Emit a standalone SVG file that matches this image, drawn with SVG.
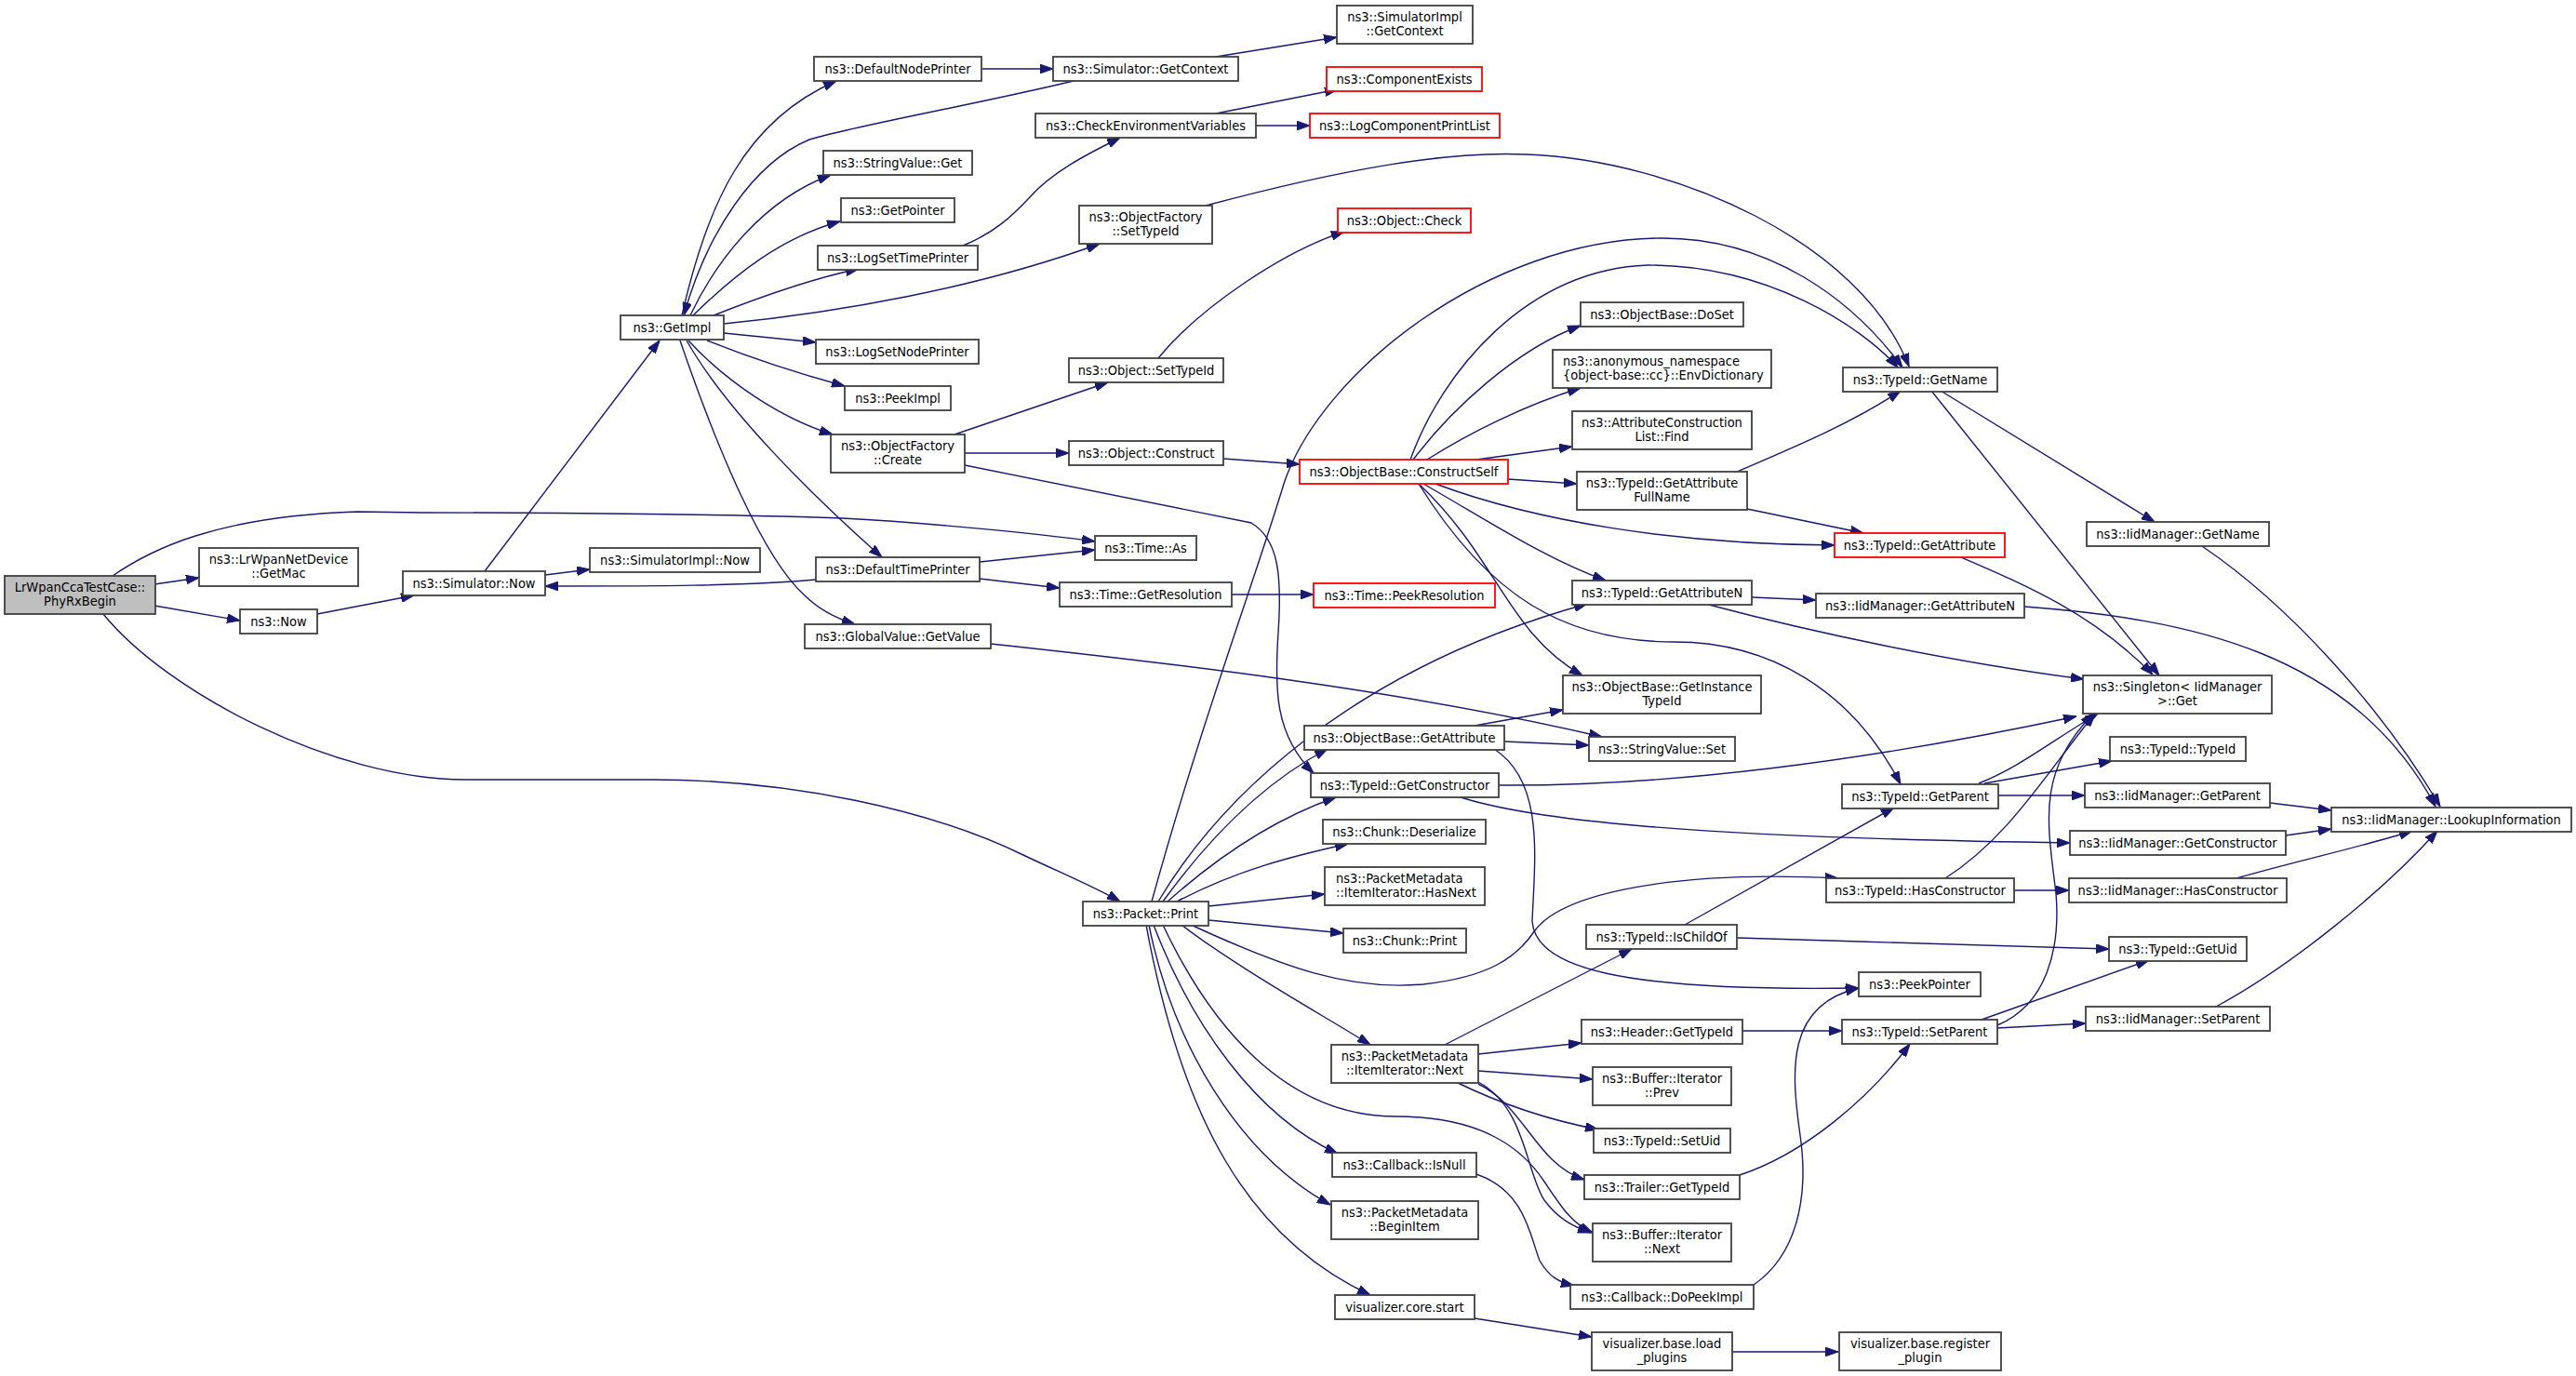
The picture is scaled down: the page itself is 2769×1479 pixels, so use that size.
<svg xmlns="http://www.w3.org/2000/svg" width="2769" height="1479" viewBox="0 0 2769 1479">
<style>
rect{fill:#fff;stroke:#404040;stroke-width:1.8}
.red rect{stroke:#ff0000}
.root rect{fill:#bfbfbf}
text{font-family:"DejaVu Sans Condensed","DejaVu Sans",sans-serif;font-stretch:condensed;font-size:14.5px;fill:#000;text-anchor:middle}
text.l{text-anchor:start}
#edges path{fill:none;stroke:#191970;stroke-width:1.4;marker-end:url(#a)}
</style>
<defs>
<marker id="a" markerUnits="userSpaceOnUse" markerWidth="14" markerHeight="10" viewBox="0 0 13 9" refX="13" refY="4.5" orient="auto">
<path d="M0,0 L13,4.5 L0,9 z" fill="#191970" stroke="#191970" stroke-width="1"/>
</marker>
</defs>
<rect x="0" y="0" width="2769" height="1479" style="fill:#fff;stroke:none"/>
<g id="edges">
<path d="M121,619 C160,592 230,555 384,550 L455,551 C600,551 800,553 905,557 C1000,562 1120,574 1177,582"/>
<path d="M166,628 L214,621"/>
<path d="M166,651 L258,667"/>
<path d="M111,660 C180,745 360,838 500,838 L700,838 C850,838 1000,870 1102,920 C1140,938 1180,955 1204,969"/>
<path d="M341,660 L445,640"/>
<path d="M521,614 L709,366"/>
<path d="M586,618 L634,612"/>
<path d="M877,623 C800,630 700,630 586,630"/>
<path d="M733,339 C760,220 800,130 899,87"/>
<path d="M1154,87 C1050,112 920,135 870,150 C810,175 760,250 735,339"/>
<path d="M742,339 C770,280 820,215 893,188"/>
<path d="M745,339 C790,295 840,255 903,238"/>
<path d="M767,339 C810,322 870,300 923,289"/>
<path d="M778,348 C900,336 1050,310 1182,262"/>
<path d="M778,358 L877,368"/>
<path d="M760,366 C800,382 860,402 908,415"/>
<path d="M740,366 C780,410 840,450 895,467"/>
<path d="M738,366 C780,440 870,530 948,599"/>
<path d="M731,366 C770,480 820,600 865,640 C880,655 900,665 919,671"/>
<path d="M1055,74 L1132,74"/>
<path d="M1035,264 C1070,250 1090,230 1106,213 C1130,185 1170,165 1204,148"/>
<path d="M1307,122 L1438,96"/>
<path d="M1350,135 L1408,135"/>
<path d="M1307,61 L1437,40"/>
<path d="M1296,221 C1450,180 1560,162 1641,166 C1800,172 2000,260 2052,394"/>
<path d="M1245,385 C1290,330 1380,270 1445,249"/>
<path d="M1026,467 L1191,411"/>
<path d="M1037,487 L1149,487"/>
<path d="M1037,500 L1345,562 C1375,580 1378,620 1374,680 C1370,740 1370,790 1412,831"/>
<path d="M1315,493 L1397,499"/>
<path d="M1053,604 L1177,591"/>
<path d="M1053,622 L1139,632"/>
<path d="M1324,639 L1412,639"/>
<path d="M1065,692 C1250,712 1500,740 1722,792"/>
<path d="M1516,494 C1550,400 1640,290 1771,285 C1900,285 2000,350 2040,395"/>
<path d="M1238,969 C1290,780 1350,620 1380,520 C1420,400 1600,258 1784,256 C1900,255 1990,320 2045,395"/>
<path d="M1519,494 C1560,440 1630,375 1699,350"/>
<path d="M1534,494 C1580,465 1640,435 1699,417"/>
<path d="M1587,494 L1690,480"/>
<path d="M1867,507 C1930,480 1990,455 2043,420"/>
<path d="M1621,515 L1695,520"/>
<path d="M1543,520 C1650,560 1800,585 1972,586"/>
<path d="M1878,547 L2003,573"/>
<path d="M1530,520 C1600,560 1660,600 1726,624"/>
<path d="M1525,520 C1610,600 1620,680 1701,726"/>
<path d="M1525,520 C1600,640 1680,690 1800,690 C1900,690 1990,740 2043,843"/>
<path d="M1245,969 C1310,860 1450,720 1706,649"/>
<path d="M1250,969 C1300,900 1360,840 1427,805"/>
<path d="M1255,969 C1310,920 1370,880 1436,857"/>
<path d="M1265,969 C1330,935 1390,920 1449,907"/>
<path d="M1299,974 L1424,961"/>
<path d="M1299,989 L1444,1003"/>
<path d="M1280,994 C1380,1040 1450,1065 1530,1058 C1600,1050 1630,1030 1650,1000 C1680,960 1800,935 1976,944"/>
<path d="M1270,994 C1330,1040 1420,1090 1473,1123"/>
<path d="M1240,994 C1280,1100 1350,1200 1438,1240"/>
<path d="M1235,994 C1260,1120 1330,1240 1430,1295"/>
<path d="M1232,994 C1270,1200 1340,1330 1473,1392"/>
<path d="M1250,994 C1300,1100 1380,1200 1500,1200 C1600,1200 1640,1240 1660,1270 C1680,1300 1690,1315 1712,1325"/>
<path d="M1589,1163 C1640,1190 1640,1260 1660,1290 C1675,1310 1690,1318 1710,1325"/>
<path d="M1589,1165 C1640,1190 1650,1250 1703,1268"/>
<path d="M1587,1262 C1640,1280 1645,1330 1655,1355 C1665,1372 1675,1378 1692,1382"/>
<path d="M1553,1123 L1754,1020"/>
<path d="M1589,1133 L1700,1121"/>
<path d="M1589,1151 L1712,1160"/>
<path d="M1565,1163 C1610,1185 1660,1203 1718,1214"/>
<path d="M1585,1417 L1711,1437"/>
<path d="M1862,1453 L1976,1453"/>
<path d="M1873,1108 L1980,1108"/>
<path d="M1870,1263 C1940,1240 2010,1180 2053,1122"/>
<path d="M1885,1381 C1930,1350 1945,1290 1935,1220 C1925,1150 1920,1080 1998,1062"/>
<path d="M1606,805 C1660,840 1650,920 1647,990 C1650,1040 1740,1066 1998,1062"/>
<path d="M1585,780 L1680,763"/>
<path d="M1617,797 L1708,801"/>
<path d="M1811,994 L2036,868"/>
<path d="M1867,1008 C2000,1012 2150,1017 2267,1020"/>
<path d="M1611,844 C1750,845 1950,830 2232,770"/>
<path d="M1567,856 C1640,880 1800,900 2225,906"/>
<path d="M1837,650 C1950,680 2100,712 2240,730"/>
<path d="M1883,642 L1952,645"/>
<path d="M2086,420 L2316,561"/>
<path d="M2076,420 L2321,726"/>
<path d="M2108,599 C2180,630 2250,660 2314,725"/>
<path d="M2367,587 C2460,650 2560,760 2623,867"/>
<path d="M2176,652 C2350,665 2530,700 2618,867"/>
<path d="M2127,842 C2170,825 2200,800 2255,767"/>
<path d="M2133,842 L2270,818"/>
<path d="M2148,855 L2241,855"/>
<path d="M2440,863 L2506,871"/>
<path d="M2457,898 L2506,891"/>
<path d="M2165,957 L2224,957"/>
<path d="M2091,944 C2160,900 2200,830 2252,767"/>
<path d="M2404,944 C2470,925 2540,910 2593,893"/>
<path d="M2147,1102 C2200,1080 2215,1020 2210,960 C2200,880 2190,830 2250,767"/>
<path d="M2130,1096 L2310,1032"/>
<path d="M2147,1105 L2242,1100"/>
<path d="M2382,1082 C2460,1040 2560,960 2620,893"/>
</g>
<g id="n1" class="root"><rect x="5" y="619" width="162" height="41"/><text x="86" y="636">LrWpanCcaTestCase::</text><text x="86" y="651">PhyRxBegin</text></g>
<g id="n2"><rect x="214" y="589" width="171" height="41"/><text x="299.5" y="606">ns3::LrWpanNetDevice</text><text x="299.5" y="621">::GetMac</text></g>
<g id="n3"><rect x="258" y="655" width="83" height="26"/><text x="299.5" y="673">ns3::Now</text></g>
<g id="n4"><rect x="433" y="614" width="153" height="26"/><text x="509.5" y="632">ns3::Simulator::Now</text></g>
<g id="n5"><rect x="634" y="589" width="183" height="26"/><text x="725.5" y="607">ns3::SimulatorImpl::Now</text></g>
<g id="n6"><rect x="667" y="339" width="111" height="26"/><text x="722.5" y="357">ns3::GetImpl</text></g>
<g id="n7"><rect x="875" y="61" width="180" height="26"/><text x="965" y="79">ns3::DefaultNodePrinter</text></g>
<g id="n8"><rect x="1132" y="61" width="199" height="26"/><text x="1231.5" y="79">ns3::Simulator::GetContext</text></g>
<g id="n9"><rect x="1113" y="122" width="237" height="26"/><text x="1231.5" y="140">ns3::CheckEnvironmentVariables</text></g>
<g id="n10"><rect x="885" y="162" width="160" height="26"/><text x="965" y="180">ns3::StringValue::Get</text></g>
<g id="n11"><rect x="904" y="213" width="122" height="26"/><text x="965" y="231">ns3::GetPointer</text></g>
<g id="n12"><rect x="879" y="264" width="172" height="26"/><text x="965" y="282">ns3::LogSetTimePrinter</text></g>
<g id="n13"><rect x="1160" y="221" width="143" height="41"/><text x="1231.5" y="238">ns3::ObjectFactory</text><text x="1231.5" y="253">::SetTypeId</text></g>
<g id="n14"><rect x="877" y="365" width="175" height="26"/><text x="964.5" y="383">ns3::LogSetNodePrinter</text></g>
<g id="n15"><rect x="1149" y="385" width="166" height="26"/><text x="1232" y="403">ns3::Object::SetTypeId</text></g>
<g id="n16"><rect x="908" y="415" width="114" height="26"/><text x="965" y="433">ns3::PeekImpl</text></g>
<g id="n17"><rect x="893" y="467" width="144" height="41"/><text x="965" y="484">ns3::ObjectFactory</text><text x="965" y="499">::Create</text></g>
<g id="n18"><rect x="1149" y="474" width="166" height="26"/><text x="1232" y="492">ns3::Object::Construct</text></g>
<g id="n19"><rect x="1177" y="576" width="109" height="26"/><text x="1231.5" y="594">ns3::Time::As</text></g>
<g id="n20"><rect x="877" y="599" width="176" height="26"/><text x="965" y="617">ns3::DefaultTimePrinter</text></g>
<g id="n21"><rect x="1139" y="626" width="185" height="26"/><text x="1231.5" y="644">ns3::Time::GetResolution</text></g>
<g id="n22"><rect x="865" y="671" width="200" height="26"/><text x="965" y="689">ns3::GlobalValue::GetValue</text></g>
<g id="n23"><rect x="1164" y="969" width="135" height="26"/><text x="1231.5" y="987">ns3::Packet::Print</text></g>
<g id="n24"><rect x="1437" y="6" width="146" height="41"/><text x="1510" y="23">ns3::SimulatorImpl</text><text x="1510" y="38">::GetContext</text></g>
<g id="n25" class="red"><rect x="1426" y="72" width="167" height="26"/><text x="1509.5" y="90">ns3::ComponentExists</text></g>
<g id="n26" class="red"><rect x="1408" y="122" width="204" height="26"/><text x="1510" y="140">ns3::LogComponentPrintList</text></g>
<g id="n27" class="red"><rect x="1438" y="224" width="143" height="26"/><text x="1509.5" y="242">ns3::Object::Check</text></g>
<g id="n28"><rect x="1699" y="325" width="175" height="26"/><text x="1786.5" y="343">ns3::ObjectBase::DoSet</text></g>
<g id="n29"><rect x="1669" y="376" width="235" height="41"/><text class="l" x="1680" y="393">ns3::anonymous_namespace</text><text class="l" x="1680" y="408">{object-base::cc}::EnvDictionary</text></g>
<g id="n30"><rect x="1690" y="442" width="193" height="41"/><text x="1786.5" y="459">ns3::AttributeConstruction</text><text x="1786.5" y="474">List::Find</text></g>
<g id="n31"><rect x="1981" y="395" width="166" height="26"/><text x="2064" y="413">ns3::TypeId::GetName</text></g>
<g id="n32" class="red"><rect x="1397" y="494" width="224" height="26"/><text x="1509" y="512">ns3::ObjectBase::ConstructSelf</text></g>
<g id="n33"><rect x="1695" y="507" width="183" height="41"/><text x="1786.5" y="524">ns3::TypeId::GetAttribute</text><text x="1786.5" y="539">FullName</text></g>
<g id="n34" class="red"><rect x="1972" y="573" width="183" height="26"/><text x="2063.5" y="591">ns3::TypeId::GetAttribute</text></g>
<g id="n35"><rect x="1690" y="624" width="193" height="26"/><text x="1786.5" y="642">ns3::TypeId::GetAttributeN</text></g>
<g id="n36"><rect x="1952" y="638" width="224" height="26"/><text x="2064" y="656">ns3::IidManager::GetAttributeN</text></g>
<g id="n37" class="red"><rect x="1412" y="627" width="195" height="26"/><text x="1509.5" y="645">ns3::Time::PeekResolution</text></g>
<g id="n38"><rect x="1680" y="726" width="213" height="41"/><text x="1786.5" y="743">ns3::ObjectBase::GetInstance</text><text x="1786.5" y="758">TypeId</text></g>
<g id="n39"><rect x="1402" y="780" width="215" height="26"/><text x="1509.5" y="798">ns3::ObjectBase::GetAttribute</text></g>
<g id="n40"><rect x="1708" y="792" width="157" height="26"/><text x="1786.5" y="810">ns3::StringValue::Set</text></g>
<g id="n41"><rect x="1409" y="831" width="202" height="26"/><text x="1510" y="849">ns3::TypeId::GetConstructor</text></g>
<g id="n42"><rect x="1980" y="843" width="168" height="26"/><text x="2064" y="861">ns3::TypeId::GetParent</text></g>
<g id="n43"><rect x="1422" y="881" width="175" height="26"/><text x="1509.5" y="899">ns3::Chunk::Deserialize</text></g>
<g id="n44"><rect x="1424" y="932" width="172" height="41"/><text class="l" x="1436" y="949">ns3::PacketMetadata</text><text class="l" x="1436" y="964">::ItemIterator::HasNext</text></g>
<g id="n45"><rect x="1963" y="944" width="202" height="26"/><text x="2064" y="962">ns3::TypeId::HasConstructor</text></g>
<g id="n46"><rect x="1444" y="998" width="132" height="26"/><text x="1510" y="1016">ns3::Chunk::Print</text></g>
<g id="n47"><rect x="1705" y="994" width="162" height="26"/><text x="1786" y="1012">ns3::TypeId::IsChildOf</text></g>
<g id="n48"><rect x="1998" y="1045" width="131" height="26"/><text x="2063.5" y="1063">ns3::PeekPointer</text></g>
<g id="n49"><rect x="1700" y="1096" width="173" height="26"/><text x="1786.5" y="1114">ns3::Header::GetTypeId</text></g>
<g id="n50"><rect x="1980" y="1096" width="167" height="26"/><text x="2063.5" y="1114">ns3::TypeId::SetParent</text></g>
<g id="n51"><rect x="1431" y="1123" width="158" height="41"/><text x="1510" y="1140">ns3::PacketMetadata</text><text x="1510" y="1155">::ItemIterator::Next</text></g>
<g id="n52"><rect x="1712" y="1147" width="149" height="41"/><text x="1786.5" y="1164">ns3::Buffer::Iterator</text><text x="1786.5" y="1179">::Prev</text></g>
<g id="n53"><rect x="1713" y="1213" width="147" height="26"/><text x="1786.5" y="1231">ns3::TypeId::SetUid</text></g>
<g id="n54"><rect x="1432" y="1239" width="155" height="26"/><text x="1509.5" y="1257">ns3::Callback::IsNull</text></g>
<g id="n55"><rect x="1703" y="1263" width="167" height="26"/><text x="1786.5" y="1281">ns3::Trailer::GetTypeId</text></g>
<g id="n56"><rect x="1431" y="1291" width="158" height="41"/><text x="1510" y="1308">ns3::PacketMetadata</text><text x="1510" y="1323">::BeginItem</text></g>
<g id="n57"><rect x="1712" y="1315" width="149" height="41"/><text x="1786.5" y="1332">ns3::Buffer::Iterator</text><text x="1786.5" y="1347">::Next</text></g>
<g id="n58"><rect x="1688" y="1381" width="197" height="26"/><text x="1786.5" y="1399">ns3::Callback::DoPeekImpl</text></g>
<g id="n59"><rect x="1435" y="1392" width="150" height="26"/><text x="1510" y="1410">visualizer.core.start</text></g>
<g id="n60"><rect x="1711" y="1432" width="151" height="41"/><text x="1786.5" y="1449">visualizer.base.load</text><text x="1786.5" y="1464">_plugins</text></g>
<g id="n61"><rect x="1977" y="1432" width="174" height="41"/><text x="2064" y="1449">visualizer.base.register</text><text x="2064" y="1464">_plugin</text></g>
<g id="n62"><rect x="2243" y="561" width="196" height="26"/><text x="2341" y="579">ns3::IidManager::GetName</text></g>
<g id="n63"><rect x="2239" y="726" width="203" height="41"/><text x="2340.5" y="743">ns3::Singleton&lt; IidManager</text><text x="2340.5" y="758">&gt;::Get</text></g>
<g id="n64"><rect x="2268" y="792" width="146" height="26"/><text x="2341" y="810">ns3::TypeId::TypeId</text></g>
<g id="n65"><rect x="2241" y="842" width="199" height="26"/><text x="2340.5" y="860">ns3::IidManager::GetParent</text></g>
<g id="n66"><rect x="2506" y="868" width="258" height="26"/><text x="2635" y="886">ns3::IidManager::LookupInformation</text></g>
<g id="n67"><rect x="2225" y="893" width="232" height="26"/><text x="2341" y="911">ns3::IidManager::GetConstructor</text></g>
<g id="n68"><rect x="2224" y="944" width="234" height="26"/><text x="2341" y="962">ns3::IidManager::HasConstructor</text></g>
<g id="n69"><rect x="2267" y="1007" width="148" height="26"/><text x="2341" y="1025">ns3::TypeId::GetUid</text></g>
<g id="n70"><rect x="2242" y="1082" width="198" height="26"/><text x="2341" y="1100">ns3::IidManager::SetParent</text></g>
</svg>
